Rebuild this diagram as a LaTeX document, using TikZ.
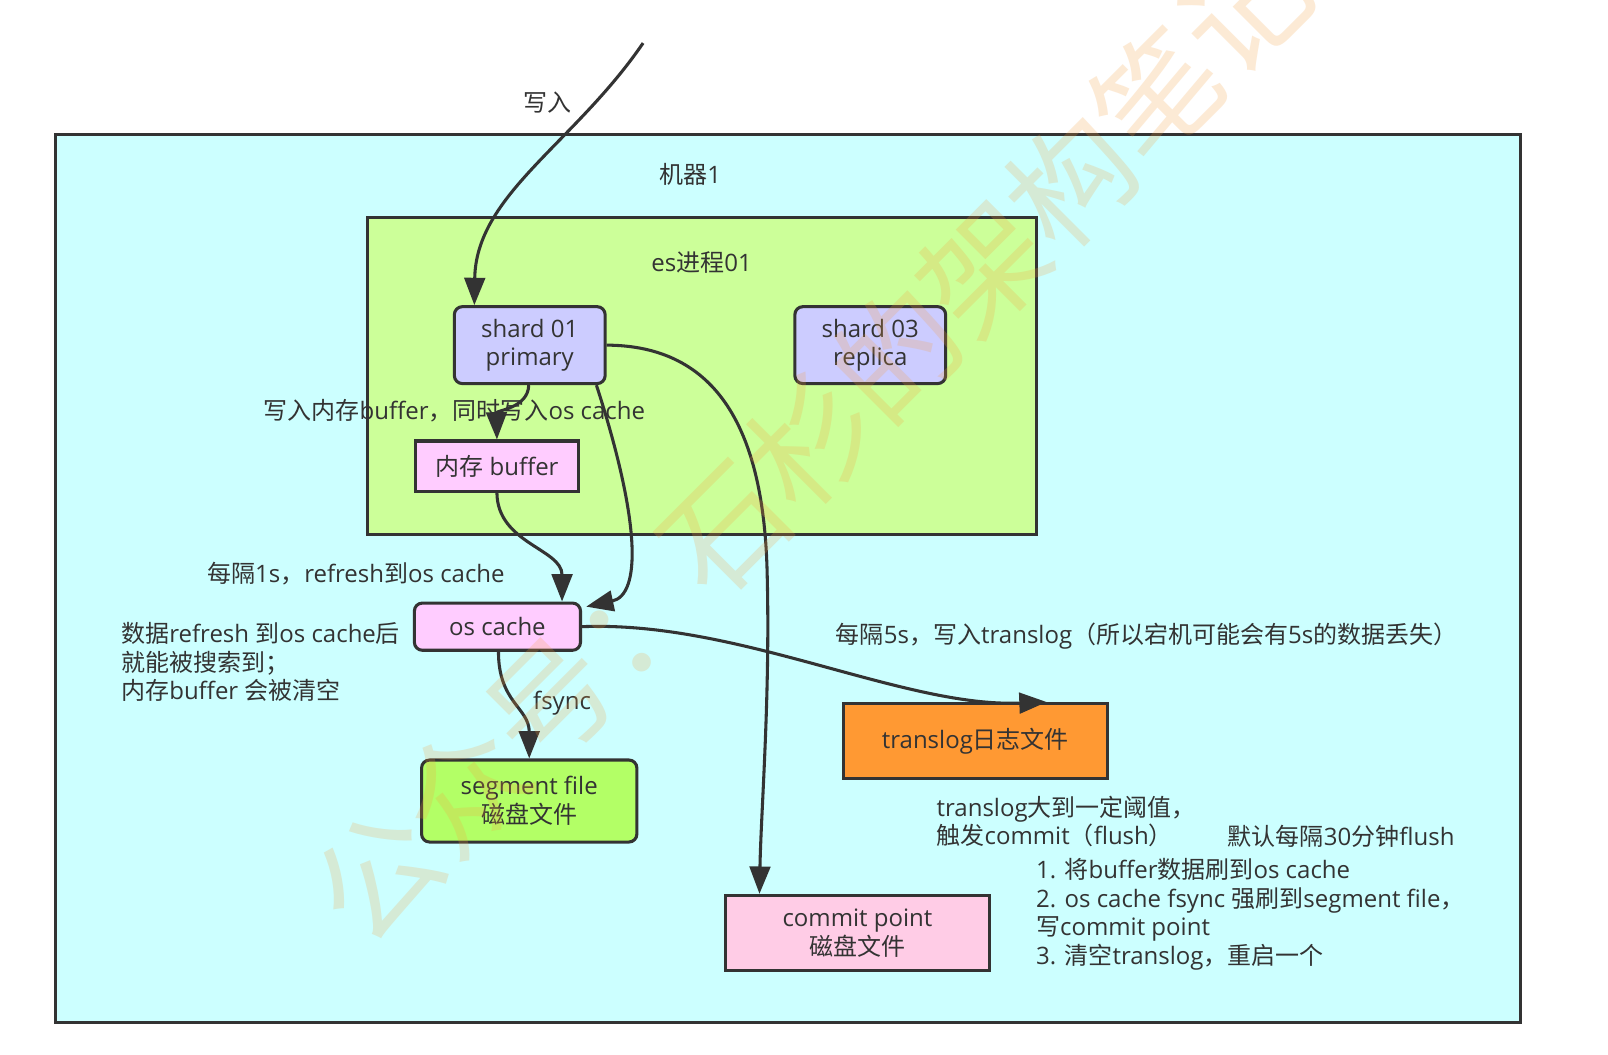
\documentclass[tikz,border=0pt]{standalone}
\usepackage{fontspec}
\setmainfont{Open Sans}
\newfontfamily\cjkfont{Noto Sans CJK SC}
\newfontfamily\latfont{Open Sans}
\usetikzlibrary{arrows.meta,calc}
\XeTeXinterchartokenstate=1
\newXeTeXintercharclass\cjkclass
\count255="3000
\loop
  \XeTeXcharclass\count255=\cjkclass
  \ifnum\count255<"9FFF \advance\count255 by 1 \repeat
\count255="FF00
\loop
  \XeTeXcharclass\count255=\cjkclass
  \ifnum\count255<"FFEF \advance\count255 by 1 \repeat
\XeTeXinterchartoks 0 \cjkclass={\cjkfont}
\XeTeXinterchartoks 4095 \cjkclass={\cjkfont}
\XeTeXinterchartoks \cjkclass 0={\latfont}
\XeTeXinterchartoks \cjkclass 4095={\latfont}
\definecolor{cline}{HTML}{333333}
\definecolor{ctext}{HTML}{333333}
\definecolor{cmach}{HTML}{CCFFFF}
\definecolor{cproc}{HTML}{CCFF99}
\definecolor{cshard}{HTML}{CCCCFF}
\definecolor{cpink}{HTML}{FFCCFF}
\definecolor{cseg}{HTML}{B3FF66}
\definecolor{ctrans}{HTML}{FF9933}
\definecolor{ccommit}{HTML}{FFCCE6}
\definecolor{cwater}{HTML}{F5A040}
\newcommand\fsz{\fontsize{18pt}{21.5pt}\selectfont}
\begin{document}
\begin{tikzpicture}[x=0.76923pt,y=-0.76923pt,
  box/.style={draw=cline, line width=2.3pt, text=ctext, align=center, inner sep=0pt, font=\fsz},
  rbox/.style={box, rounded corners=6pt},
  lbl/.style={text=ctext, font=\fsz, inner sep=0pt},
  conn/.style={draw=cline, line width=2.3pt, -{Triangle[length=20.5pt,width=15.5pt]}}]
\fill[white] (0,0) rectangle (1567.8,1028.6);
\useasboundingbox (0,0) rectangle (1567.8,1028.6);
% containers
\node[box, fill=cmach, minimum width=1098.5pt, minimum height=666.2pt] (m1) at (768,564) {};
\node[lbl] (m1l) at (673,170) {机器1};
\node[box, fill=cproc, minimum width=502.3pt, minimum height=237.7pt] (es) at (684.5,366.5) {};
\node[lbl] (esl) at (684,256) {es进程01};
% boxes
\node[rbox, fill=cshard, minimum width=113.1pt, minimum height=57.7pt] (s1) at (516.5,336.5) {shard 01\\primary};
\node[rbox, fill=cshard, minimum width=113.1pt, minimum height=57.7pt] (s3) at (848.5,336.5) {shard 03\\replica};
\node[box, fill=cpink, minimum width=122.3pt, minimum height=37.7pt] (buf) at (484.5,454.5) {内存 buffer};
\node[rbox, fill=cpink, minimum width=124.6pt, minimum height=35.4pt] (oc) at (485,611) {os cache};
\node[rbox, fill=cseg, minimum width=161.5pt, minimum height=61.5pt] (seg) at (516,781) {segment file\\磁盘文件};
\node[box, fill=ctrans, minimum width=198.5pt, minimum height=56.2pt] (tl) at (951,722.5) {translog日志文件};
\node[box, fill=ccommit, minimum width=198.5pt, minimum height=56.2pt] (cp) at (836,909.5) {commit point\\磁盘文件};
% labels
\node[lbl] (l1) at (534,100) {写入};
\node[lbl] (l2) at (443,400) {写入内存buffer，同时写入os cache};
\node[lbl] (l3) at (347,559) {每隔1s，refresh到os cache};
\node[lbl, anchor=west, align=left] (l4) at (118,645.5) {数据refresh 到os cache后\\就能被搜索到；\\内存buffer 会被清空};
\node[lbl] (l5) at (548,686) {fsync};
\node[lbl] (l6) at (1118,620) {每隔5s，写入translog（所以宕机可能会有5s的数据丢失）};
\node[lbl, anchor=west, align=left] (l7) at (913,801) {translog大到一定阈值，\\触发commit（flush）};
\node[lbl, anchor=west] (l8) at (1197,815) {默认每隔30分钟flush};
\node[lbl, anchor=west, align=left] (l9) at (1010,891.5) {1. 将buffer数据刷到os cache\\2. os cache fsync 强刷到segment file，\\写commit point\\3. 清空translog，重启一个};
% connectors
\coordinate (in) at (627,42);
\draw[conn] (in) .. controls (560,140) and (464,190) .. ($(s1.north west)+(21,0)$);
\draw[conn] ($(s1.south)+(-1,0)$) .. controls (515,398) and (484,400) .. (buf.north);
\draw[conn] ($(s1.south east)+(-10,0)$) .. controls (625,510) and (625,580) .. ($(oc.north east)+(4,5)$);
\draw[conn] (buf.south) .. controls (485,530) and (548,535) .. ($(oc.north)+(63,0)$);
\draw[conn] (s1.east) .. controls (700,337) and (745,420) .. (748,560) .. controls (751,680) and (742,790) .. ($(cp.north west)+(35,0)$);
\draw[conn] (oc.east) .. controls (720,605) and (880,690) .. ($(tl.north west)+(200,0)$);
\draw[conn] ($(oc.south)+(1,0)$) .. controls (486,685) and (516,690) .. (seg.north);
% watermark
\node[text=cwater, opacity=0.22, rotate=45, font=\fontsize{92pt}{92pt}\selectfont, inner sep=0pt] (wm) at (790,430) {公众号：石杉的架构笔记};
\end{tikzpicture}
\end{document}
